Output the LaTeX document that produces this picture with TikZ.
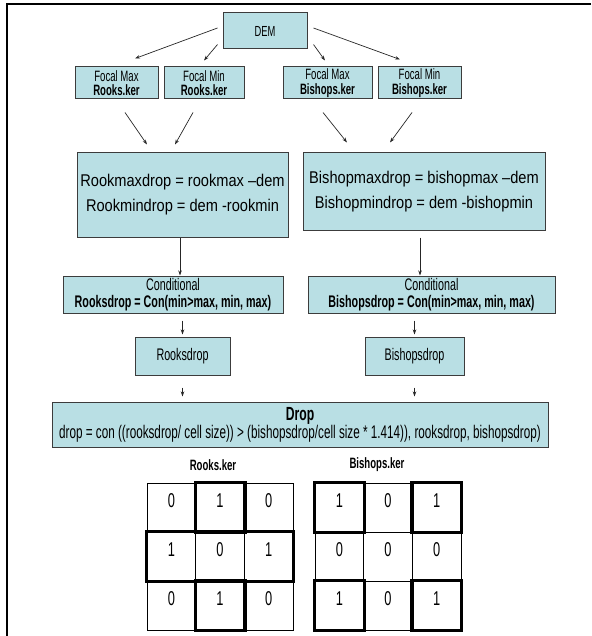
\documentclass[tikz,border=0pt]{standalone}
\usepackage{fontspec}
\setmainfont{Liberation Sans}[FakeStretch=0.86]
\newfontfamily\narrowfont{Liberation Sans}[FakeStretch=0.64]
\usetikzlibrary{arrows.meta}
\definecolor{boxfill}{RGB}{185,223,228}
\definecolor{boxline}{RGB}{60,60,60}
\begin{document}
\begin{tikzpicture}[x=1pt,y=-1pt,
  box/.style={draw=boxline,line width=1pt,fill=boxfill,inner sep=0pt,align=center},
  small/.style={font=\narrowfont\fontsize{15}{14.5}\selectfont},
  mid/.style={font=\narrowfont\fontsize{16.8}{16.5}\selectfont},
  ar/.style={-{Stealth[length=5pt,width=3.5pt]},line width=0.7pt,draw=black!85},
  cell/.style={draw,line width=1pt,minimum width=48.7pt,minimum height=49pt,inner sep=0pt,
    text height=14pt,text depth=15pt,font=\narrowfont\fontsize{20}{20}\selectfont},
  heavy/.style={line width=3.2pt}]
\useasboundingbox (0,0) rectangle (591,636);
\draw[line width=2.5pt] (591,4) -- (7,4) -- (7,636);

\node[box,font=\narrowfont\fontsize{14.6}{14}\selectfont,minimum width=84pt,minimum height=36pt] (dem) at (265,31) {DEM};
\node[box,small,minimum width=83pt,minimum height=32pt] (fmaxr) at (116.5,83) {Focal Max\\\textbf{Rooks.ker}};
\node[box,small,minimum width=80pt,minimum height=32pt] (fminr) at (204,83) {Focal Min\\\textbf{Rooks.ker}};
\node[box,small,minimum width=89pt,minimum height=32pt] (fmaxb) at (327.5,83) {Focal Max\\\textbf{Bishops.ker}};
\node[box,small,minimum width=83pt,minimum height=32pt] (fminb) at (419.5,83) {Focal Min\\\textbf{Bishops.ker}};
\draw[ar] ([xshift=-5pt,yshift=3pt]dem.west) -- ([xshift=18.5pt,yshift=8pt]fmaxr.north);
\draw[ar] ([xshift=-5pt,yshift=5pt]dem.south west) -- ([yshift=6pt]fminr.north);
\draw[ar] ([xshift=6pt,yshift=5pt]dem.south east) -- ([xshift=-2.5pt,yshift=6pt]fmaxb.north);
\draw[ar] ([xshift=6pt,yshift=3pt]dem.east) -- ([xshift=-19.5pt,yshift=7pt]fminb.north);

\node[box,font=\fontsize{17}{25}\selectfont,minimum width=211pt,minimum height=84pt] (rform) at (182.5,195)
  {Rookmaxdrop = rookmax --dem\\Rookmindrop = dem -rookmin};
\node[box,font=\fontsize{17}{25}\selectfont,minimum width=242pt,minimum height=77pt] (bform) at (424,191.5)
  {Bishopmaxdrop = bishopmax --dem\\Bishopmindrop = dem -bishopmin};
\draw[ar] ([xshift=8.5pt,yshift=-13pt]fmaxr.south) -- ([xshift=-35.5pt,yshift=8pt]rform.north);
\draw[ar] ([xshift=-11pt,yshift=-13pt]fminr.south) -- ([xshift=-7.5pt,yshift=8pt]rform.north);
\draw[ar] ([xshift=-4.5pt,yshift=-13pt]fmaxb.south) -- ([xshift=-77pt,yshift=10pt]bform.north);
\draw[ar] ([xshift=-7.5pt,yshift=-13pt]fminb.south) -- ([xshift=-34pt,yshift=10pt]bform.north);

\node[box,mid,minimum width=220pt,minimum height=37pt] (crook) at (173,294.5)
  {Conditional\\\textbf{Rooksdrop = Con(min>max, min, max)}};
\node[box,mid,minimum width=247pt,minimum height=37pt] (cbish) at (431.5,294.5)
  {Conditional\\\textbf{Bishopsdrop = Con(min>max, min, max)}};
\draw[ar] ([xshift=-2.5pt]rform.south) -- ([xshift=-2.5pt]rform.south |- crook.north);
\draw[ar] ([xshift=-4pt,yshift=-7pt]bform.south) -- ([xshift=-4pt]bform.south |- cbish.north);

\node[box,mid,minimum width=95pt,minimum height=38pt] (rdrop) at (182.5,356) {Rooksdrop};
\node[box,mid,minimum width=99pt,minimum height=38pt] (bdrop) at (414.5,356) {Bishopsdrop};
\draw[ar,shorten <=7pt,shorten >=2pt] (rdrop.north |- crook.south) -- (rdrop.north);
\draw[ar,shorten <=7pt,shorten >=2pt] (bdrop.north |- cbish.south) -- (bdrop.north);

\node[box,minimum width=496pt,minimum height=45pt] (drop) at (300,424.5)
  {{\narrowfont\fontsize{19}{16}\selectfont\textbf{Drop}}\\{\narrowfont\fontsize{18.3}{16}\selectfont drop = con ((rooksdrop/ cell size)) > (bishopsdrop/cell size * 1.414)), rooksdrop, bishopsdrop)}};
\draw[ar,shorten <=12pt,shorten >=5pt] (rdrop.south) -- (rdrop.south |- drop.north);
\draw[ar,shorten <=12pt,shorten >=5pt] (bdrop.south) -- (bdrop.south |- drop.north);

\node[font=\narrowfont\fontsize{15}{15}\selectfont\bfseries] (rker) at (213,465) {Rooks.ker};
\node[font=\narrowfont\fontsize{15}{15}\selectfont\bfseries] (bker) at (377,465) {Bishops.ker};

\foreach \d [count=\k from 0] in {0,1,0,1,0,1,0,1,0} {
  \pgfmathtruncatemacro\r{int(\k/3)}
  \pgfmathtruncatemacro\c{mod(\k,3)}
  \node[cell] (r\r\c) at ({171.35+\c*48.7},{507.5+\r*49}) {\d};
}
\foreach \d [count=\k from 0] in {1,0,1,0,0,0,1,0,1} {
  \pgfmathtruncatemacro\r{int(\k/3)}
  \pgfmathtruncatemacro\c{mod(\k,3)}
  \node[cell] (b\r\c) at ({339.35+\c*48.7},{507.5+\r*49}) {\d};
}
\draw[heavy] (r01.north west) rectangle (r01.south east);
\draw[heavy] (r21.north west) rectangle (r21.south east);
\draw[heavy] (r10.north west) rectangle (r12.south east);
\foreach \n in {b00,b02,b20,b22}
  \draw[heavy] (\n.north west) rectangle (\n.south east);
\end{tikzpicture}
\end{document}
